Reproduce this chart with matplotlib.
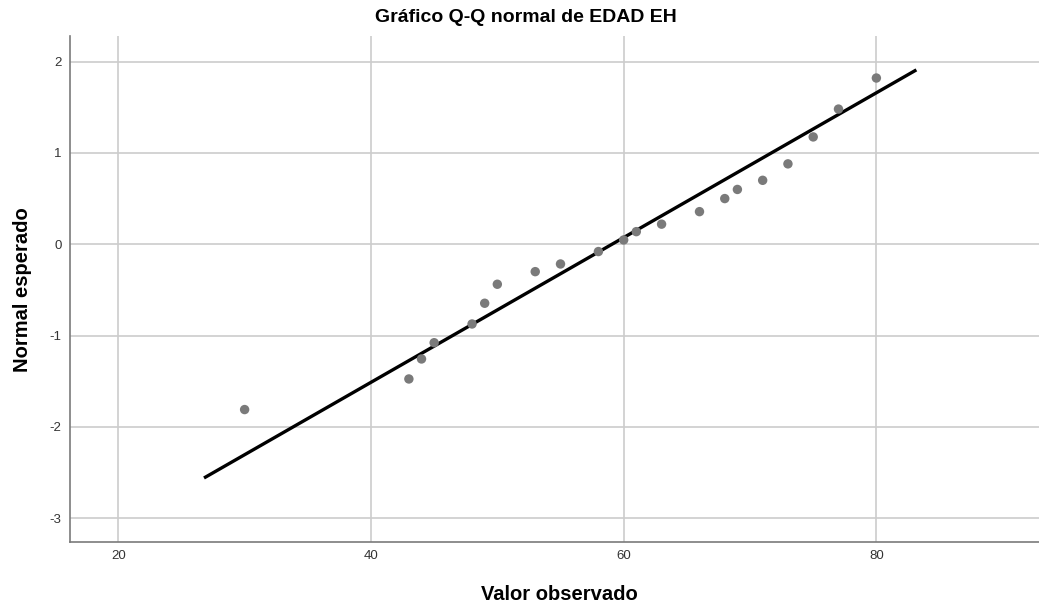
import matplotlib
matplotlib.use("Agg")
import matplotlib.pyplot as plt

# Data
observed = [30, 43, 44, 45, 48, 49, 50, 53, 55, 58, 60, 61, 63, 66, 68, 69, 71, 73, 75, 77, 80]
expected = [-1.81, -1.475, -1.256, -1.078, -0.873, -0.646, -0.438, -0.30, -0.216, -0.08,
            0.047, 0.138, 0.22, 0.357, 0.50, 0.60, 0.70, 0.88, 1.175, 1.48, 1.82]
line_x = [26.9, 83.05]
line_y = [-2.55, 1.90]
x_ticks = [20, 40, 60, 80]
y_ticks = [-3, -2, -1, 0, 1, 2]

plt.rcParams['font.family'] = ['Liberation Sans', 'DejaVu Sans']
plt.rcParams['axes.unicode_minus'] = False

fig = plt.figure(figsize=(10.39, 6.06), dpi=100)
ax = fig.add_axes([70/1039, 64/606, 969/1039, 506/606])

ax.set_xlim(16.18, 92.87)
ax.set_ylim(-3.26, 2.28)
ax.set_xticks(x_ticks)
ax.set_yticks(y_ticks)
ax.grid(True, color='#cccccc', linewidth=1.2)
ax.set_axisbelow(True)
ax.tick_params(length=0, labelsize=9.5, colors='#333333', pad=6)

for s in ['top', 'right']:
    ax.spines[s].set_visible(False)
for s in ['left', 'bottom']:
    ax.spines[s].set_color('#7a7a7a')
    ax.spines[s].set_linewidth(1.2)

ax.plot(line_x, line_y, color='black', linewidth=2.4, zorder=3)
ax.scatter(observed, expected, s=46, color='#7a7a7a', edgecolors='none', zorder=4)

ax.set_xlabel('Valor observado', fontsize=14.5, fontweight='bold')
ax.set_ylabel('Normal esperado', fontsize=14.5, fontweight='bold')
ax.xaxis.set_label_coords((559 - 70) / 969, -(594 - 542) / 506)
ax.yaxis.set_label_coords(-(70 - 23) / 969, (542 - 290) / 506)
ax.xaxis.label.set_verticalalignment('center')
ax.yaxis.label.set_verticalalignment('center')
fig.text(526 / 1039, 1 - 17/606, 'Gráfico Q-Q normal de EDAD EH', ha='center', va='center',
         fontsize=14, fontweight='bold')

fig.savefig('out.png', dpi=100)
